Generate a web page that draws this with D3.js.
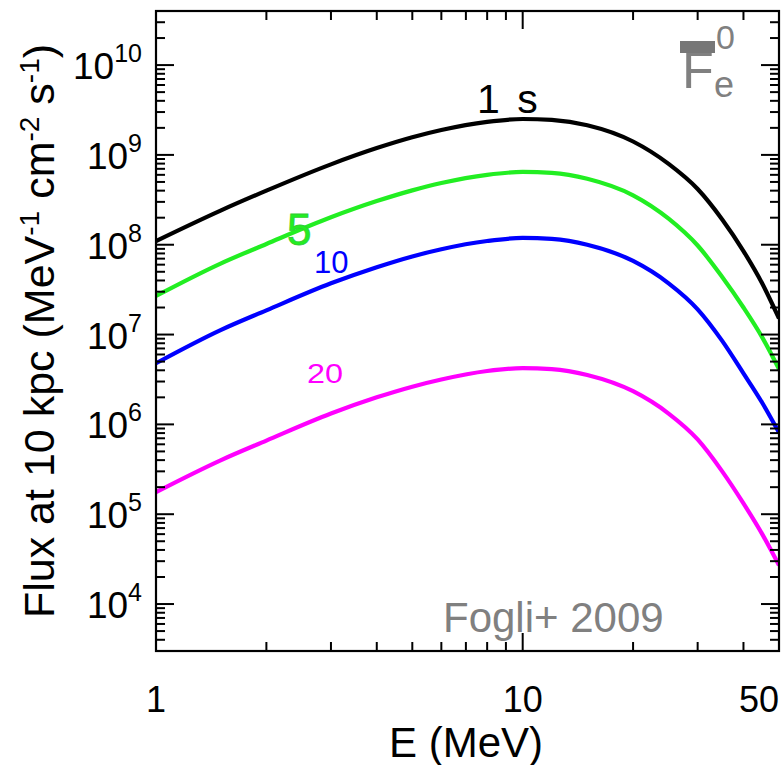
<!DOCTYPE html>
<html>
<head>
<meta charset="utf-8">
<script src="https://cdn.jsdelivr.net/npm/d3@7"></script>
<style>
  html, body { margin: 0; padding: 0; background: #fff; }
  svg { display: block; }
  text { font-family: "Liberation Sans", Arial, sans-serif; }
</style>
</head>
<body>
<svg id="chart" width="783" height="765"></svg>
<script>
// ---- data ----
const energies = [1, 1.5, 2, 3, 4, 5, 6, 8, 10, 12, 15, 20, 25, 30, 35, 40, 45, 50];
const flux1s  = [1.10e8, 2.40e8, 4.0e8, 7.85e8, 1.19e9, 1.57e9, 1.89e9, 2.33e9, 2.51e9, 2.45e9, 2.14e9, 1.41e9, 7.94e8, 4.17e8, 1.91e8, 8.5e7, 3.7e7, 1.51e7];
const flux5s  = [2.69e7, 6.17e7, 1.02e8, 2.02e8, 3.06e8, 4.03e8, 4.86e8, 6.0e8, 6.46e8, 6.31e8, 5.43e8, 3.55e8, 1.95e8, 9.8e7, 4.37e7, 2.0e7, 9.3e6, 4.12e6];
const flux10s = [4.79e6, 1.12e7, 1.86e7, 3.72e7, 5.62e7, 7.41e7, 8.91e7, 1.10e8, 1.19e8, 1.16e8, 1.0e8, 6.6e7, 3.72e7, 1.91e7, 8.5e6, 3.7e6, 1.74e6, 8.1e5];
const flux20s = [1.76e5, 3.98e5, 6.6e5, 1.32e6, 2.0e6, 2.63e6, 3.16e6, 3.93e6, 4.23e6, 4.13e6, 3.55e6, 2.34e6, 1.32e6, 6.8e5, 3.0e5, 1.32e5, 6.0e4, 2.7e4];
const seriesNames  = ["1 s", "5", "10", "20"];
const seriesColors = ["#000000", "#22ee22", "#0000ff", "#ff00ff"];
const xTickValues = [1, 10, 50];
const xTickLabels = ["1", "10", "50"];
const yTickExponents = [4, 5, 6, 7, 8, 9, 10];
const xDomain = [1, 50];
const yDomain = [3e3, 4e10];

// ---- layout ----
const svg = d3.select("#chart");
const L = 156, R = 779, T = 11, B = 651;
const x = d3.scaleLog().domain(xDomain).range([L, R]);
const y = d3.scaleLog().domain(yDomain).range([B, T]);

const series = [flux1s, flux5s, flux10s, flux20s].map((vals, i) => ({
  name: seriesNames[i], color: seriesColors[i],
  points: energies.map((e, j) => ({ e, f: vals[j] }))
}));

// curves (clipped to frame)
svg.append("clipPath").attr("id", "clip")
  .append("rect").attr("x", L).attr("y", T).attr("width", R - L).attr("height", B - T);

const line = d3.line().x(d => x(d.e)).y(d => y(d.f)).curve(d3.curveMonotoneX);
svg.append("g").attr("clip-path", "url(#clip)")
  .selectAll("path").data(series).join("path")
  .attr("d", d => line(d.points))
  .attr("fill", "none")
  .attr("stroke", d => d.color)
  .attr("stroke-width", 4.2)
  .attr("stroke-linejoin", "round");

// ---- ticks (inward, on all four sides) ----
const xMinor = [], xMajor = [1, 10];
[1, 10].forEach(d => { for (let k = 2; k <= 9; k++) if (d * k <= 50) xMinor.push(d * k); });
const yMajor = [], yMinor = [];
for (let p = 3; p <= 10; p++) {
  if (Math.pow(10, p) >= yDomain[0] && Math.pow(10, p) <= yDomain[1]) yMajor.push(Math.pow(10, p));
  for (let k = 2; k <= 9; k++) {
    const v = k * Math.pow(10, p);
    if (v >= yDomain[0] && v <= yDomain[1]) yMinor.push(v);
  }
}
const tickG = svg.append("g").attr("stroke", "#000").attr("stroke-width", 2);
const bigLen = 18, smallLen = 9;
function xTicks(vals, len) {
  vals.forEach(v => {
    tickG.append("line").attr("x1", x(v)).attr("x2", x(v)).attr("y1", B).attr("y2", B - len);
    tickG.append("line").attr("x1", x(v)).attr("x2", x(v)).attr("y1", T).attr("y2", T + len);
  });
}
function yTicks(vals, len) {
  vals.forEach(v => {
    tickG.append("line").attr("y1", y(v)).attr("y2", y(v)).attr("x1", L).attr("x2", L + len);
    tickG.append("line").attr("y1", y(v)).attr("y2", y(v)).attr("x1", R).attr("x2", R - len);
  });
}
xTicks(xMajor, bigLen); xTicks(xMinor, smallLen);
yTicks(yMajor, bigLen); yTicks(yMinor, smallLen);

// frame
svg.append("rect").attr("x", L).attr("y", T).attr("width", R - L).attr("height", B - T)
  .attr("fill", "none").attr("stroke", "#000").attr("stroke-width", 2.2);

// ---- tick labels ----
const yl = svg.append("g");
yTickExponents.forEach(p => {
  const t = yl.append("text")
    .attr("x", 142).attr("y", y(Math.pow(10, p)) + 14)
    .attr("text-anchor", "end").attr("font-size", 37).attr("fill", "#000");
  t.append("tspan").text("10");
  t.append("tspan").attr("dy", -17).attr("font-size", 25).text(String(p));
});
const xl = svg.append("g");
xTickValues.forEach((v, i) => {
  xl.append("text")
    .attr("x", x(v)).attr("y", 712)
    .attr("text-anchor", v === 50 ? "end" : "middle")
    .attr("font-size", 36).attr("fill", "#000")
    .text(xTickLabels[i]);
});

// ---- axis titles ----
svg.append("text")
  .attr("x", 466).attr("y", 757)
  .attr("text-anchor", "middle").attr("font-size", 42).attr("fill", "#000")
  .text("E (MeV)");

const yt = svg.append("text")
  .attr("transform", `translate(54, ${(T + B) / 2}) rotate(-90)`)
  .attr("text-anchor", "middle").attr("font-size", 43).attr("fill", "#000");
yt.append("tspan").text("Flux at 10 kpc (MeV");
yt.append("tspan").attr("dy", -15).attr("font-size", 28).text("-1");
yt.append("tspan").attr("dy", 15).text(" cm");
yt.append("tspan").attr("dy", -15).attr("font-size", 28).text("-2");
yt.append("tspan").attr("dy", 15).text(" s");
yt.append("tspan").attr("dy", -15).attr("font-size", 28).text("-1");
yt.append("tspan").attr("dy", 15).text(")");

// ---- curve labels ----
svg.append("text").attr("x", 477).attr("y", 113).attr("font-size", 41)
  .attr("fill", seriesColors[0]).attr("word-spacing", 6).text(seriesNames[0]);
svg.append("text").attr("x", 287).attr("y", 245).attr("font-size", 44)
  .attr("fill", seriesColors[1]).attr("stroke", "#33cc33").attr("stroke-width", 0.8).text(seriesNames[1]);
svg.append("text").attr("x", 314).attr("y", 273).attr("font-size", 31)
  .attr("fill", seriesColors[2]).text(seriesNames[2]);
svg.append("text").attr("x", 307).attr("y", 383).attr("font-size", 27)
  .attr("textLength", 36).attr("lengthAdjust", "spacingAndGlyphs")
  .attr("fill", seriesColors[3]).text(seriesNames[3]);

// ---- annotations ----
svg.append("text").attr("x", 443).attr("y", 632)
  .attr("font-family", "'Open Sans', 'Noto Sans', sans-serif")
  .attr("font-size", 42).attr("fill", "#808080").text("Fogli+ 2009");

// anti-electron-neutrino style label (grey)
const lab = svg.append("g").attr("fill", "#808080");
lab.append("text").attr("x", 682).attr("y", 88).attr("font-size", 52).text("F");
lab.append("rect").attr("x", 680).attr("y", 41).attr("width", 35).attr("height", 12).attr("fill", "#777");
lab.append("text").attr("x", 716).attr("y", 49).attr("font-size", 34).text("0");
lab.append("text").attr("x", 714).attr("y", 97).attr("font-size", 36).text("e");
</script>
</body>
</html>
